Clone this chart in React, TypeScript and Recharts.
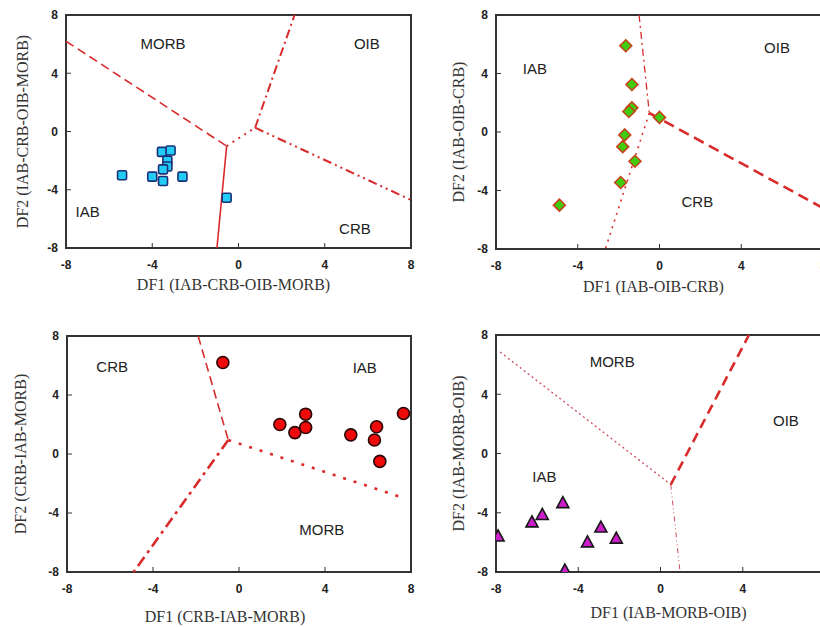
import React from 'react';
import {
    ScatterChart, Scatter, XAxis, YAxis, ReferenceLine, ReferenceArea, ReferenceDot
} from 'recharts';

type Pt = { x: number; y: number };
type Field = { name: string; x: number; y: number };

const axisTicks = [-8, -4, 0, 4, 8];

// top left: DF1/DF2 (IAB-CRB-OIB-MORB)
const p1Samples: Pt[] = [
    { x: -5.4, y: -3.0 }, { x: -4.0, y: -3.1 }, { x: -3.55, y: -1.4 }, { x: -3.15, y: -1.3 },
    { x: -3.3, y: -2.0 }, { x: -3.3, y: -2.4 }, { x: -3.5, y: -2.6 }, { x: -3.5, y: -3.4 },
    { x: -2.6, y: -3.1 }, { x: -0.55, y: -4.55 },
];
const p1IabMorb: Pt[] = [{ x: -8, y: 6.2 }, { x: -0.55, y: -1.0 }];
const p1IabCrb: Pt[] = [{ x: -0.55, y: -1.0 }, { x: -1.0, y: -8 }];
const p1Link: Pt[] = [{ x: -0.55, y: -1.0 }, { x: 0.77, y: 0.26 }];
const p1MorbOib: Pt[] = [{ x: 0.77, y: 0.26 }, { x: 2.6, y: 8 }];
const p1OibCrb: Pt[] = [{ x: 0.77, y: 0.26 }, { x: 8, y: -4.7 }];
const p1Fields: Field[] = [
    { name: 'MORB', x: -3.5, y: 6.0 }, { name: 'OIB', x: 5.95, y: 6.0 },
    { name: 'IAB', x: -7.0, y: -5.5 }, { name: 'CRB', x: 5.4, y: -6.7 },
];

// top right: DF1/DF2 (IAB-OIB-CRB)
const p2Samples: Pt[] = [
    { x: -1.65, y: 5.9 }, { x: -1.35, y: 3.25 }, { x: -1.35, y: 1.65 }, { x: -1.5, y: 1.4 },
    { x: 0.0, y: 1.0 }, { x: -1.7, y: -0.2 }, { x: -1.8, y: -1.0 }, { x: -1.2, y: -2.0 },
    { x: -1.9, y: -3.45 }, { x: -4.9, y: -5.0 },
];
const p2IabOib: Pt[] = [{ x: -1.0, y: 8 }, { x: -0.5, y: 1.3 }];
const p2OibCrb: Pt[] = [{ x: -0.5, y: 1.3 }, { x: 8, y: -5.2 }];
const p2IabCrb: Pt[] = [{ x: -0.5, y: 1.3 }, { x: -2.65, y: -8 }];
const p2Fields: Field[] = [
    { name: 'IAB', x: -6.1, y: 4.3 }, { name: 'OIB', x: 5.75, y: 5.8 }, { name: 'CRB', x: 1.85, y: -4.75 },
];

// bottom left: DF1/DF2 (CRB-IAB-MORB)
const p3Samples: Pt[] = [
    { x: -0.75, y: 6.2 }, { x: 1.9, y: 2.0 }, { x: 2.6, y: 1.45 }, { x: 3.1, y: 2.7 },
    { x: 3.1, y: 1.8 }, { x: 5.2, y: 1.3 }, { x: 6.4, y: 1.85 }, { x: 6.3, y: 0.95 },
    { x: 6.55, y: -0.5 }, { x: 7.65, y: 2.75 },
];
const p3CrbIab: Pt[] = [{ x: -1.9, y: 8 }, { x: -0.5, y: 0.95 }];
const p3IabMorb: Pt[] = [{ x: -0.5, y: 0.95 }, { x: 7.7, y: -3.0 }];
const p3CrbMorb: Pt[] = [{ x: -0.5, y: 0.95 }, { x: -4.9, y: -8 }];
const p3Fields: Field[] = [
    { name: 'CRB', x: -5.9, y: 5.9 }, { name: 'IAB', x: 5.85, y: 5.85 }, { name: 'MORB', x: 3.85, y: -5.1 },
];

// bottom right: DF1/DF2 (IAB-MORB-OIB)
const p4Samples: Pt[] = [
    { x: -7.9, y: -5.6 }, { x: -6.25, y: -4.65 }, { x: -5.75, y: -4.15 }, { x: -4.75, y: -3.35 },
    { x: -4.65, y: -7.9 }, { x: -3.55, y: -6.0 }, { x: -2.9, y: -5.0 }, { x: -2.15, y: -5.75 },
];
const p4IabMorb: Pt[] = [{ x: -7.8, y: 6.85 }, { x: 0.5, y: -2.1 }];
const p4MorbOib: Pt[] = [{ x: 0.5, y: -2.1 }, { x: 4.3, y: 8 }];
const p4IabOib: Pt[] = [{ x: 0.5, y: -2.1 }, { x: 0.95, y: -8 }];
const p4Fields: Field[] = [
    { name: 'MORB', x: -2.35, y: 6.2 }, { name: 'OIB', x: 6.1, y: 2.2 }, { name: 'IAB', x: -5.65, y: -1.55 },
];

const RED = '#d92b2b';
const PINK = '#cf4a5c';
const tickStyle = { fill: '#222', fontSize: 12, fontWeight: 700, fontFamily: 'Liberation Sans, Arial, sans-serif' };
const titleStyle = { fill: '#333', fontSize: 16, fontFamily: 'Liberation Serif, Times New Roman, serif' };

const Square = (p: any) => (
    <rect x={p.cx - 4.5} y={p.cy - 4.5} width={9} height={9} rx={1.5} fill="#22ccf5" stroke="#1b2f78" strokeWidth={1.6} />
);
const Diamond = (p: any) => (
    <path d={`M${p.cx},${p.cy - 6} L${p.cx + 6},${p.cy} L${p.cx},${p.cy + 6} L${p.cx - 6},${p.cy} Z`}
        fill="#3fcc12" stroke="#c8401a" strokeWidth={1.5} />
);
const Circle = (p: any) => (
    <circle cx={p.cx} cy={p.cy} r={6} fill="#ee0a0a" stroke="#2a0505" strokeWidth={1.6} />
);
const Triangle = (p: any) => (
    <path d={`M${p.cx},${p.cy - 6.5} L${p.cx + 6},${p.cy + 4.5} L${p.cx - 6},${p.cy + 4.5} Z`}
        fill="#cc1fcc" stroke="#151515" strokeWidth={1.6} />
);

const seg = (pts: Pt[], stroke: string, width: number, dash?: string) => (
    <ReferenceLine
        segment={[pts[0], pts[1]]}
        stroke={stroke}
        strokeWidth={width}
        strokeDasharray={dash}
        ifOverflow="visible"
    />
);

const fields = (list: Field[]) =>
    list.map((f) => (
        <ReferenceDot
            key={f.name}
            x={f.x}
            y={f.y}
            r={0}
            fill="none"
            stroke="none"
            ifOverflow="visible"
            label={{ value: f.name, position: 'center', fill: '#222', fontSize: 15, fontFamily: 'Liberation Sans, Arial, sans-serif' }}
        />
    ));

const frame = (xTitle: string, yTitle: string, yWidth: number, yOffset: number, xOffset: number, xShift: number) => [
    <XAxis
        key="x"
        type="number"
        dataKey="x"
        domain={[-8, 8]}
        ticks={axisTicks}
        allowDataOverflow
        axisLine={false}
        tickSize={-5}
        tickMargin={17}
        tickLine={{ stroke: '#333' }}
        tick={tickStyle}
        height={50}
        label={{ value: xTitle, position: 'insideBottom', offset: xOffset, dx: xShift, ...titleStyle }}
    />,
    <YAxis
        key="y"
        type="number"
        dataKey="y"
        domain={[-8, 8]}
        ticks={axisTicks}
        allowDataOverflow
        axisLine={false}
        tickSize={-5}
        tickMargin={13}
        tickLine={{ stroke: '#333' }}
        tick={tickStyle}
        width={yWidth}
        label={{ value: yTitle, angle: -90, position: 'insideLeft', offset: yOffset, style: { textAnchor: 'middle' }, ...titleStyle }}
    />,
    <ReferenceArea key="frame" x1={-8} x2={8} y1={-8} y2={8} fill="none" stroke="#333" strokeWidth={2} ifOverflow="visible" />,
];

export default function App() {
    return (
        <div style={{ position: 'absolute', left: 0, top: 0, width: 820, height: 627, overflow: 'hidden', background: '#fff' }}>
            <div style={{ position: 'absolute', left: 0, top: 0 }}>
                <ScatterChart width={420} height={310} margin={{ top: 15, right: 9, bottom: 12, left: 0 }}>
                    {frame('DF1 (IAB-CRB-OIB-MORB)', 'DF2 (IAB-CRB-OIB-MORB)', 66, 22, 8, -5)}
                    {seg(p1IabMorb, RED, 1.6, '9 5')}
                    {seg(p1IabCrb, RED, 1.6)}
                    {seg(p1Link, RED, 2, '2 5')}
                    {seg(p1MorbOib, RED, 2, '9 4 2 4')}
                    {seg(p1OibCrb, RED, 2, '9 4 2 4 2 4')}
                    {fields(p1Fields)}
                    <Scatter data={p1Samples} shape={Square} isAnimationActive={false} />
                </ScatterChart>
            </div>
            <div style={{ position: 'absolute', left: 420, top: 0 }}>
                <ScatterChart width={420} height={310} margin={{ top: 15, right: 17, bottom: 11, left: 0 }}>
                    {frame('DF1 (IAB-OIB-CRB)', 'DF2 (IAB-OIB-CRB)', 76, 38, 7, -6)}
                    {seg(p2IabOib, RED, 1.3, '7 4 2 4')}
                    {seg(p2OibCrb, RED, 2.6, '11 6')}
                    {seg(p2IabCrb, RED, 1.6, '2 5')}
                    {fields(p2Fields)}
                    <Scatter data={p2Samples} shape={Diamond} isAnimationActive={false} />
                </ScatterChart>
            </div>
            <div style={{ position: 'absolute', left: 0, top: 320 }}>
                <ScatterChart width={420} height={307} margin={{ top: 16, right: 9, bottom: 5, left: 0 }}>
                    {frame('DF1 (CRB-IAB-MORB)', 'DF2 (CRB-IAB-MORB)', 67, 20, 0, -14)}
                    {seg(p3CrbIab, RED, 1.6, '9 5')}
                    {seg(p3IabMorb, RED, 2.6, '3 8')}
                    {seg(p3CrbMorb, RED, 2.6, '11 5 3 5')}
                    {fields(p3Fields)}
                    <Scatter data={p3Samples} shape={Circle} isAnimationActive={false} />
                </ScatterChart>
            </div>
            <div style={{ position: 'absolute', left: 420, top: 320 }}>
                <ScatterChart width={420} height={307} margin={{ top: 15, right: 15, bottom: 5, left: 0 }}>
                    {frame('DF1 (IAB-MORB-OIB)', 'DF2 (IAB-MORB-OIB)', 76, 38, 4, 8)}
                    {seg(p4IabMorb, PINK, 1.3, '2 3')}
                    {seg(p4MorbOib, RED, 2.6, '10 6')}
                    {seg(p4IabOib, PINK, 1, '5 3 1 3 1 3')}
                    {fields(p4Fields)}
                    <Scatter data={p4Samples} shape={Triangle} isAnimationActive={false} />
                </ScatterChart>
            </div>
        </div>
    );
}
